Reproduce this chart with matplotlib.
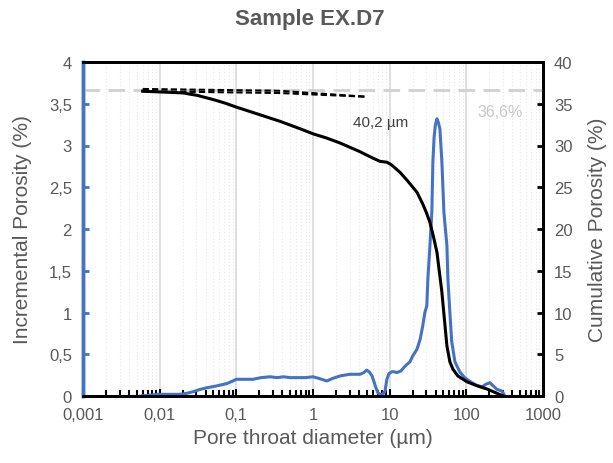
import matplotlib
matplotlib.use("Agg")
import matplotlib.pyplot as plt
import numpy as np
from matplotlib.ticker import FixedLocator, LogLocator, NullFormatter

plt.rcParams['font.family'] = ['Liberation Sans', 'DejaVu Sans']

# Incremental porosity (left axis, %)
inc_x = [0.0056, 0.0075, 0.0093, 0.013, 0.018, 0.022, 0.027, 0.034, 0.042, 0.055, 0.076, 0.09,
         0.10, 0.13, 0.165, 0.21, 0.275, 0.34, 0.41, 0.5, 0.62, 0.8, 1.0, 1.2, 1.52, 1.8, 2.25,
         3.0, 4.1, 4.6, 5.0, 5.4, 5.9, 6.5, 7.0, 7.5, 8.1, 8.7, 9.2, 9.8, 10.7, 11.5, 12.4, 14,
         16, 18.4, 20, 22.7, 25, 27, 28.8, 30.5, 31.5, 33.5, 35.5, 36.6, 38, 39.5, 41.4, 43, 45.2,
         48, 51, 55.8, 57.5, 61, 64.5, 71, 82, 95, 118, 135, 160, 180, 203, 225, 250, 290, 305, 317]
inc_y = [0.0, 0.01, 0.02, 0.02, 0.02, 0.03, 0.05, 0.08, 0.1, 0.12, 0.15, 0.18,
         0.2, 0.2, 0.2, 0.22, 0.23, 0.22, 0.23, 0.22, 0.22, 0.22, 0.23, 0.21, 0.18, 0.21, 0.24,
         0.26, 0.26, 0.28, 0.31, 0.29, 0.24, 0.12, 0.04, 0.02, 0.02, 0.06, 0.2, 0.27, 0.29, 0.29, 0.28, 0.3,
         0.36, 0.41, 0.48, 0.56, 0.68, 0.84, 1.0, 1.08, 1.4, 1.8, 2.2, 2.8, 3.1, 3.25, 3.32, 3.28, 3.2,
         2.8, 2.2, 1.8, 1.4, 1.0, 0.65, 0.41, 0.29, 0.22, 0.16, 0.13, 0.11, 0.14, 0.16, 0.12, 0.08, 0.06, 0.03, 0.0]

# Cumulative porosity (right axis, %)
cum_x = [0.006, 0.011, 0.02, 0.031, 0.05, 0.07, 0.1, 0.2, 0.37, 0.68, 1, 1.5, 2.25, 4, 6, 7.5,
         9.2, 10.5, 13.6, 17, 22.7, 27, 30, 33.5, 37, 41.4, 45, 47.9, 52, 55.8, 61, 66.9, 77.6,
         102, 140, 186, 240, 302]
cum_y = [36.5, 36.4, 36.3, 36.0, 35.5, 35.1, 34.6, 33.7, 32.9, 32.0, 31.4, 30.9, 30.3, 29.3, 28.5, 28.1,
         28.0, 27.7, 26.8, 25.8, 24.4, 23.0, 22.0, 20.8, 19.2, 17.2, 14.5, 12.5, 9.0, 6.0, 4.1, 3.2, 2.4,
         1.7, 1.2, 0.84, 0.4, 0.0]

# Dashed extrapolation lines (right axis)
dash1_x = [0.006, 0.35, 5.0]
dash1_y = [36.77, 36.56, 35.84]
dash2_x = [0.006, 0.35, 5.0]
dash2_y = [36.5, 36.29, 35.84]

total_porosity = 36.6
mode_label = "40,2 µm"
x_ticks = [0.001, 0.01, 0.1, 1, 10, 100, 1000]
x_tick_labels = ["0,001", "0,01", "0,1", "1", "10", "100", "1000"]
left_ticks = [0, 0.5, 1, 1.5, 2, 2.5, 3, 3.5, 4]
left_tick_labels = ["0", "0,5", "1", "1,5", "2", "2,5", "3", "3,5", "4"]
right_ticks = [0, 5, 10, 15, 20, 25, 30, 35, 40]

gray = "#595959"
blue = "#4472C4"

fig = plt.figure(figsize=(6.13, 4.64), dpi=100)
ax = fig.add_axes([83/613, 1-397/464, (543-83)/613, (397-63)/464])
ax2 = ax.twinx()

ax.set_xscale('log')
ax.set_xlim(0.001, 1000)
ax.set_ylim(0, 4)
ax2.set_ylim(0, 40)

# grid
ax.xaxis.set_major_locator(FixedLocator(x_ticks))
ax.xaxis.set_minor_locator(LogLocator(base=10, subs=np.arange(2, 10), numticks=20))
ax.xaxis.set_minor_formatter(NullFormatter())
ax.grid(which='major', axis='x', color='#d9d9d9', lw=1.2)
ax.grid(which='minor', axis='x', color='#e6e6e6', lw=0.8, ls=(0, (1, 2)))
ax.grid(False, axis='y')

ax.plot(inc_x, inc_y, color=blue, lw=2.2, zorder=3, solid_joinstyle='round')

ax2.axhline(total_porosity, color='#d0d0d0', lw=2, ls=(0, (6, 3)), zorder=1)
ax2.plot(cum_x, cum_y, color='black', lw=2.2, zorder=4, solid_joinstyle='round')
ax2.plot(dash1_x, dash1_y, color='black', lw=1.5, ls=(0, (3, 1.5)), zorder=4)
ax2.plot(dash2_x, dash2_y, color='black', lw=1.5, ls=(0, (3, 1.5)), zorder=4)
ax2.text(141.6, 34.1, f"{total_porosity:.1f}%".replace('.', ','), color='#c8c8c8',
         fontsize=11.5, ha='left', va='center')
ax2.text(3.3, 32.8, mode_label, color='#404040', fontsize=11, ha='left', va='center')

ax.set_xticks(x_ticks)
ax.set_xticklabels(x_tick_labels)
ax.set_yticks(left_ticks)
ax.set_yticklabels(left_tick_labels)
ax2.set_yticks(right_ticks)
ax2.set_yticklabels([str(t) for t in right_ticks])

ax.tick_params(axis='x', which='major', direction='in', length=5, width=1.5, colors='black',
               labelcolor=gray, labelsize=12, pad=8)
ax.tick_params(axis='x', which='minor', direction='in', length=4, width=1.5, colors='black')
ax.tick_params(axis='y', direction='in', length=4, width=2, colors=blue, labelcolor=gray,
               labelsize=12, pad=8)
ax2.tick_params(axis='y', direction='in', length=4, width=2, colors='black', labelcolor=gray,
                labelsize=12, pad=8)

for a in (ax, ax2):
    for s in ['top', 'bottom', 'right']:
        a.spines[s].set_color('black')
        a.spines[s].set_linewidth(2)
    a.spines['left'].set_color(blue)
    a.spines['left'].set_linewidth(2.5)

ax.set_xlabel("Pore throat diameter (µm)", color=gray, fontsize=15, labelpad=4)
ax.set_ylabel("Incremental Porosity (%)", color=gray, fontsize=15, labelpad=12)
ax2.set_ylabel("Cumulative Porosity (%)", color=gray, fontsize=15, labelpad=11)
fig.text(310/613, 1-19/464, "Sample EX.D7", color=gray, fontsize=16,
         fontweight='bold', ha='center', va='center')

fig.savefig("out.png", dpi=100)
